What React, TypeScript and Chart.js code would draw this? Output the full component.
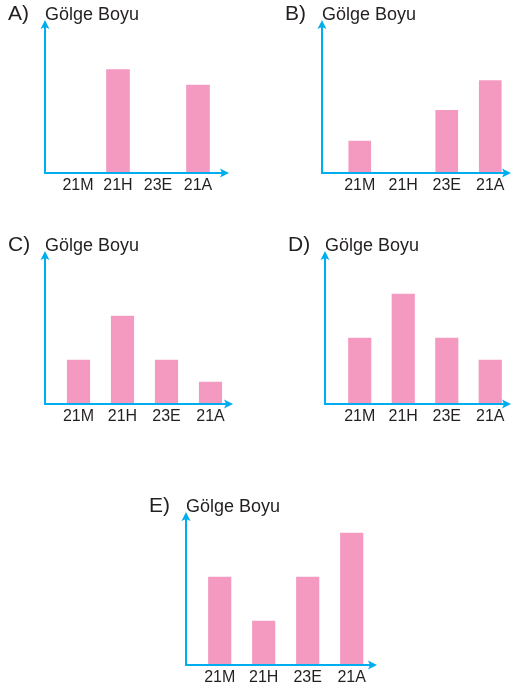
import React, { useEffect, useRef } from "react";
import { Chart, registerables } from "chart.js";

Chart.register(...registerables);

// ---- data ----
const categories = ["21M", "21H", "23E", "21A"];
const seriesA = [0, 4.7, 0, 4];
const seriesB = [1.45, 0, 2.85, 4.2];
const seriesC = [2, 4, 2, 1];
const seriesD = [3, 5, 3, 2];
const seriesE = [4, 2, 4, 6];
const panelLetters = ["A)", "B)", "C)", "D)", "E)"];
const yTitle = "Gölge Boyu";
const yMax = 7;

// ---- style ----
const PINK = "#F49AC1";
const BLUE = "#00AEEF";
const TEXT = "#231F20";
const FAMILY = "'Liberation Sans', Arial, Helvetica, sans-serif";

type PanelCfg = {
  letter: string;
  data: number[];
  left: number;
  top: number;
  width: number;
  height: number;
  padLeft: number;
  padRight: number;
  padTop: number;
  axisH: number;
  gap: number;
  ext: number;
  bar: number;
};

const panels: PanelCfg[] = [
  { letter: panelLetters[0], data: seriesA, left: 0, top: 0, width: 256, height: 200, padLeft: 58, padRight: 38, padTop: 19, axisH: 27, gap: 13, ext: 11, bar: 23 },
  { letter: panelLetters[1], data: seriesB, left: 256, top: 0, width: 256, height: 200, padLeft: 82, padRight: 0, padTop: 19, axisH: 27, gap: 16, ext: -1, bar: 22 },
  { letter: panelLetters[2], data: seriesC, left: 0, top: 225, width: 256, height: 206, padLeft: 56.5, padRight: 23.5, padTop: 25, axisH: 27, gap: 11.5, ext: 0.5, bar: 22.5 },
  { letter: panelLetters[3], data: seriesD, left: 256, top: 225, width: 256, height: 206, padLeft: 82, padRight: 0, padTop: 25, axisH: 27, gap: 13, ext: -1, bar: 22.5 },
  { letter: panelLetters[4], data: seriesE, left: 140, top: 480, width: 256, height: 210, padLeft: 57.7, padRight: 22.3, padTop: 31, axisH: 25, gap: 11.7, ext: 3.3, bar: 22.5 },
];

const arrowAxes = {
  id: "arrowAxes",
  afterDatasetsDraw(chart: any, _args: any, opts: any) {
    const { ctx, chartArea } = chart;
    const ax = chartArea.left - opts.gap;
    const ay = chartArea.bottom;
    const topY = chartArea.top + 1;
    const tipX = chartArea.right + opts.ext;
    ctx.save();
    ctx.strokeStyle = BLUE;
    ctx.lineWidth = 2;
    ctx.beginPath();
    ctx.moveTo(ax, ay + 1);
    ctx.lineTo(ax, topY + 6);
    ctx.stroke();
    ctx.beginPath();
    ctx.moveTo(ax - 1, ay);
    ctx.lineTo(tipX - 6, ay);
    ctx.stroke();
    ctx.fillStyle = BLUE;
    ctx.beginPath();
    ctx.moveTo(ax, topY);
    ctx.lineTo(ax + 4.5, topY + 9);
    ctx.lineTo(ax, topY + 7);
    ctx.lineTo(ax - 4.5, topY + 9);
    ctx.closePath();
    ctx.fill();
    ctx.beginPath();
    ctx.moveTo(tipX, ay);
    ctx.lineTo(tipX - 9, ay - 4.5);
    ctx.lineTo(tipX - 7, ay);
    ctx.lineTo(tipX - 9, ay + 4.5);
    ctx.closePath();
    ctx.fill();
    ctx.fillStyle = TEXT;
    ctx.textBaseline = "alphabetic";
    ctx.textAlign = "left";
    ctx.font = `21px ${FAMILY}`;
    ctx.fillText(opts.letter, ax - 37, chartArea.top + 1.3);
    ctx.font = `18px ${FAMILY}`;
    ctx.fillText(yTitle, ax, chartArea.top + 1.3);
    ctx.restore();
  },
};

function Panel({ cfg }: { cfg: PanelCfg }) {
  const ref = useRef<HTMLCanvasElement>(null);
  useEffect(() => {
    if (!ref.current) return;
    const chart = new Chart(ref.current, {
      type: "bar",
      data: {
        labels: categories,
        datasets: [
          {
            data: cfg.data,
            backgroundColor: PINK,
            borderWidth: 0,
            barThickness: cfg.bar,
          },
        ],
      },
      options: {
        animation: false,
        responsive: false,
        maintainAspectRatio: false,
        layout: { padding: { left: cfg.padLeft, right: cfg.padRight, top: cfg.padTop, bottom: 0 } },
        plugins: {
          legend: { display: false },
          tooltip: { enabled: false },
          title: { display: false },
          arrowAxes: { gap: cfg.gap, ext: cfg.ext, letter: cfg.letter },
        } as any,
        scales: {
          x: {
            type: "category",
            offset: true,
            grid: { display: false, drawTicks: false },
            border: { display: false },
            ticks: {
              color: TEXT,
              font: { family: FAMILY, size: 16 },
              padding: 2.5,
              maxRotation: 0,
              autoSkip: false,
            },
            afterFit: (s: any) => {
              s.height = cfg.axisH;
            },
          },
          y: { display: false, min: 0, max: yMax },
        },
      },
      plugins: [arrowAxes as any],
    });
    return () => chart.destroy();
  }, []);
  return (
    <canvas
      ref={ref}
      width={cfg.width}
      height={cfg.height}
      style={{ position: "absolute", left: cfg.left, top: cfg.top, width: cfg.width, height: cfg.height }}
    />
  );
}

export default function App() {
  return (
    <div
      style={{
        position: "absolute",
        left: 0,
        top: 0,
        width: 512,
        height: 691,
        background: "#ffffff",
        overflow: "hidden",
      }}
    >
      {panels.map((p, i) => (
        <Panel key={i} cfg={p} />
      ))}
    </div>
  );
}
